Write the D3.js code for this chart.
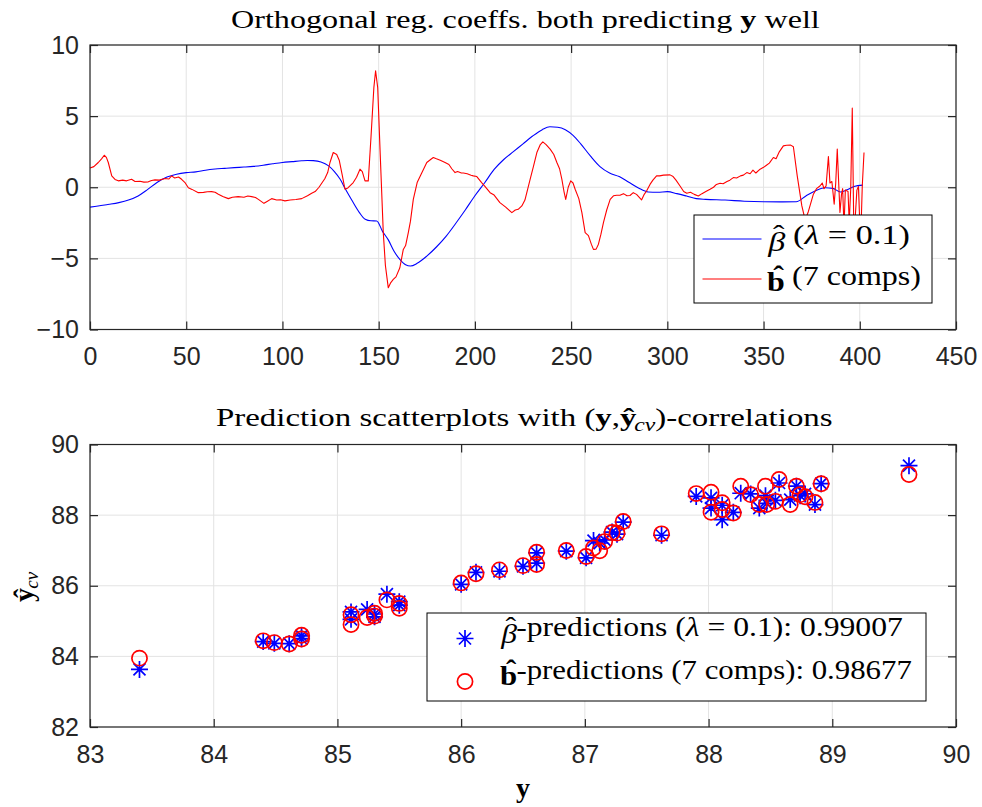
<!DOCTYPE html>
<html>
<head>
<meta charset="utf-8">
<script src="https://cdn.jsdelivr.net/npm/d3@7"></script>
<style>
  body { margin: 0; background: #fff; }
  svg { display: block; }
  .tick text { font-family: "Liberation Sans", Arial, sans-serif; font-size: 25px; fill: #262626; }
  .serif { font-family: "Liberation Serif", "Times New Roman", serif; fill: #000; }
</style>
</head>
<body>
<div id="graph"></div>
<script>
// ---- top panel: coefficient curves (variable index vs value)
const betaX = [0, 5, 10, 15, 20, 25, 30, 35, 40, 45, 50, 55, 60, 65, 70, 75, 80, 85, 90, 95, 100, 105, 110, 113, 116, 120, 124, 127, 130, 133, 136, 140, 143, 146, 149, 152, 155, 158, 161, 164, 166.5, 170, 175, 180, 185, 190, 195, 200, 205, 210, 215, 220, 225, 230, 235, 239, 243, 247, 251, 255, 260, 265, 270, 275, 280, 285, 290, 295, 300, 305, 310, 315, 320, 330, 340, 350, 360, 367, 372, 377, 382, 386, 390, 393, 397, 401.5];
const betaY = [-1.40, -1.30, -1.20, -1.08, -0.90, -0.61, -0.15, 0.35, 0.72, 0.92, 1.03, 1.08, 1.20, 1.28, 1.33, 1.38, 1.42, 1.47, 1.55, 1.65, 1.74, 1.80, 1.86, 1.88, 1.87, 1.78, 1.50, 1.10, 0.56, -0.20, -0.90, -1.78, -2.25, -2.36, -2.37, -3.10, -3.70, -4.50, -5.07, -5.45, -5.54, -5.35, -4.84, -4.20, -3.45, -2.55, -1.60, -0.60, 0.30, 1.25, 1.95, 2.50, 3.05, 3.60, 4.05, 4.25, 4.22, 4.05, 3.65, 3.05, 2.20, 1.45, 1.00, 0.75, 0.35, -0.05, -0.33, -0.35, -0.31, -0.45, -0.62, -0.80, -0.85, -0.90, -0.98, -1.02, -1.03, -1.02, -0.61, -0.25, -0.03, -0.08, -0.33, -0.20, 0.05, 0.15];

const bX = [0, 2, 4.3, 6, 7.4, 8.5, 9.5, 11.3, 13, 14.7, 17, 19, 21.6, 23.4, 26, 28, 30.3, 32, 33.8, 36, 39, 41, 42.4, 44, 46, 47.6, 49.5, 51.1, 53, 56.3, 59, 61, 63.2, 65, 66.7, 69, 71.9, 74, 77, 80, 82, 84, 86, 87.5, 90.4, 92, 94.4, 97, 99, 101.3, 104, 107, 110, 113, 115.2, 117, 119, 120.4, 122, 123.5, 124.7, 126.4, 128.2, 129.5, 131, 132.5, 134, 136.8, 138.5, 140.3, 141.5, 142.9, 144.6, 146, 147.5, 148.4, 149.5, 150.7, 152.4, 153.5, 155, 156.3, 157.6, 159, 161, 162.8, 164, 165.4, 166.5, 168, 170, 172, 175, 177, 178.4, 180, 182, 184.5, 186.5, 188, 189.7, 191, 193, 194, 196, 198, 199.2, 201, 203.5, 205, 207.9, 210, 213, 216, 219.2, 221, 222.5, 224.4, 226, 228.7, 230.5, 232.2, 234, 235.3, 237, 239.1, 241, 242.6, 244, 245.2, 246.3, 247.2, 248.5, 249.8, 251, 252.1, 254, 255.6, 257.3, 259, 260.5, 261.6, 263, 264.2, 265.5, 266.8, 268.5, 270.3, 272, 273.7, 275.4, 277.2, 279, 280.6, 282.3, 284, 286.6, 288, 289.2, 291, 292.5, 294.4, 296, 298, 301.4, 303, 304.5, 306.6, 308.5, 310.1, 312, 314, 316.1, 318, 320, 322.2, 324, 325.5, 327.4, 329, 331, 332.5, 334.3, 336, 338, 339.5, 341.3, 343, 344.5, 346, 348.2, 350, 351.5, 353, 355.1, 356.5, 358, 360.3, 362, 364.1, 365.5, 367.5, 369.9, 371.6, 373.3, 375.9, 377.5, 379.3, 380.5, 381.4, 382.5, 383.7, 384.5, 385.5, 386.7, 387.5, 388.3, 389.2, 389.7, 390.5, 391.1, 391.8, 392.5, 393.9, 394.5, 395.3, 396.1, 396.9, 397.6, 398.5, 399.3, 400, 400.6, 401.3, 402.2];
const bY = [1.35, 1.45, 1.74, 2.00, 2.25, 2.10, 1.74, 0.80, 0.55, 0.45, 0.50, 0.45, 0.56, 0.40, 0.42, 0.36, 0.38, 0.48, 0.52, 0.50, 0.61, 0.58, 0.80, 0.65, 0.72, 0.56, 0.30, -0.03, -0.15, -0.38, -0.36, -0.32, -0.31, -0.35, -0.49, -0.65, -0.80, -0.70, -0.66, -0.70, -0.62, -0.66, -0.72, -0.85, -1.13, -1.00, -0.80, -0.90, -0.88, -0.96, -0.90, -0.86, -0.80, -0.60, -0.42, -0.30, 0.00, 0.28, 0.60, 1.03, 1.74, 2.44, 2.30, 1.90, 0.90, -0.14, -0.05, 0.33, 0.70, 1.27, 1.10, 0.45, 0.45, 3.50, 7.00, 8.19, 7.00, 2.68, -3.19, -5.50, -7.07, -6.70, -6.48, -6.30, -5.66, -4.37, -4.10, -3.19, -2.40, -0.85, 0.33, 0.90, 1.74, 1.95, 2.09, 2.00, 1.90, 1.74, 1.60, 1.30, 1.03, 1.10, 1.00, 1.00, 0.95, 0.85, 0.80, 0.75, 0.33, 0.10, -0.38, -0.55, -1.08, -1.40, -1.78, -1.60, -1.55, -1.31, -0.90, 0.56, 1.50, 2.44, 3.00, 3.19, 3.00, 2.68, 2.30, 1.74, 1.30, 0.56, -0.30, -0.85, 0.00, 0.45, 0.30, -0.14, -0.80, -1.78, -3.19, -3.40, -4.00, -4.37, -4.35, -4.00, -3.30, -2.49, -1.60, -0.85, -0.60, -0.56, -0.56, -0.45, -0.60, -0.58, -0.38, -0.50, -0.89, -0.50, -0.26, 0.20, 0.50, 0.80, 0.80, 0.85, 0.87, 0.75, 0.50, 0.09, -0.30, -0.42, -0.35, -0.50, -0.61, -0.45, -0.30, -0.14, 0.00, 0.20, 0.28, 0.25, 0.40, 0.50, 0.68, 0.65, 0.80, 0.85, 1.03, 0.95, 1.20, 1.00, 1.27, 1.40, 1.55, 1.70, 2.09, 2.00, 2.45, 2.91, 2.95, 2.96, 2.85, 0.80, -1.31, -2.30, -1.70, -0.49, -0.10, 0.09, 0.30, -0.10, 0.10, 2.16, 0.30, 0.40, -1.19, 0.30, 2.68, -0.20, -1.78, -0.50, -0.10, -2.80, -0.20, -0.30, -2.50, -0.10, 5.56, -3.00, -2.20, -0.20, 0.05, -2.50, -3.20, 0.10, 2.44];

const coefXTicks = [0, 50, 100, 150, 200, 250, 300, 350, 400, 450];
const coefYTicks = [-10, -5, 0, 5, 10];

// ---- bottom panel: measured y vs cross-validated predictions
const yTrue    = [83.40, 84.40, 84.49, 84.61, 84.71, 84.71, 85.11, 85.11, 85.24, 85.30, 85.30, 85.40, 85.50, 85.50, 86.00, 86.12, 86.31, 86.50, 86.61, 86.61, 86.85, 87.01, 87.07, 87.12, 87.16, 87.22, 87.26, 87.31, 87.62, 87.90, 88.02, 88.02, 88.11, 88.11, 88.20, 88.26, 88.34, 88.41, 88.46, 88.47, 88.54, 88.57, 88.66, 88.71, 88.74, 88.78, 88.86, 88.91, 89.62];
const predBeta = [83.63, 84.42, 84.37, 84.36, 84.58, 84.50, 85.26, 85.05, 85.33, 85.20, 85.12, 85.76, 85.55, 85.45, 86.04, 86.38, 86.41, 86.55, 86.93, 86.64, 86.98, 86.79, 87.28, 87.21, 87.30, 87.52, 87.46, 87.80, 87.43, 88.53, 88.49, 88.20, 87.87, 88.28, 88.08, 88.62, 88.60, 88.20, 88.55, 88.33, 88.42, 88.91, 88.44, 88.82, 88.55, 88.60, 88.30, 88.89, 89.40];
const predB    = [83.95, 84.44, 84.39, 84.35, 84.60, 84.49, 85.18, 84.90, 85.10, 85.22, 85.14, 85.60, 85.50, 85.36, 86.08, 86.34, 86.45, 86.57, 86.95, 86.60, 87.00, 86.83, 87.07, 86.99, 87.25, 87.51, 87.49, 87.82, 87.47, 88.61, 88.65, 88.08, 88.16, 88.35, 88.06, 88.82, 88.58, 88.30, 88.82, 88.30, 88.39, 89.01, 88.30, 88.82, 88.58, 88.52, 88.36, 88.89, 89.15];

const predXTicks = [83, 84, 85, 86, 87, 88, 89, 90];
const predYTicks = [82, 84, 86, 88, 90];

const width = 982, height = 807;
const axColor = "#262626", gridColor = "#e3e3e3";

var svg = d3.select("#graph").append("svg")
    .attr("width", width)
    .attr("height", height);

// stretch a serif text horizontally so its ink spans x0..x1 (Computer Modern is wider than Times)
function fitText(t, x0, x1) {
  var bb = t.node().getBBox();
  var k = (x1 - x0) / bb.width;
  t.attr("transform", "translate(" + (x0 - bb.x * k) + ",0) scale(" + k + ",1)");
}

// hatted symbol: base glyph, then a circumflex pulled back over it
function hatted(t, base, style, weight, lift) {
  t.append("tspan").style("font-style", style).style("font-weight", weight).text(base);
  t.append("tspan").attr("dx", -10).attr("dy", -lift).style("font-weight", weight).text("\u02C6");
  t.append("tspan").attr("dy", lift).text("");
}

// grid lines behind the data
function drawGrid(g, x, y, xTicks, yTicks, w, h) {
  g.append("g").selectAll("line").data(xTicks).enter().append("line")
    .attr("x1", d => x(d)).attr("x2", d => x(d))
    .attr("y1", 0).attr("y2", h)
    .attr("stroke", gridColor).attr("stroke-width", 1);
  g.append("g").selectAll("line").data(yTicks).enter().append("line")
    .attr("y1", d => y(d)).attr("y2", d => y(d))
    .attr("x1", 0).attr("x2", w)
    .attr("stroke", gridColor).attr("stroke-width", 1);
}

// MATLAB style box: inward ticks on all four sides
function drawFrame(g, x, y, xTicks, yTicks, w, h) {
  var fmt = d3.format("d");
  var axB = g.append("g").attr("transform", "translate(0," + h + ")")
    .call(d3.axisBottom(x).tickValues(xTicks).tickFormat(fmt).tickSizeInner(-8).tickSizeOuter(0).tickPadding(18));
  var axT = g.append("g")
    .call(d3.axisTop(x).tickValues(xTicks).tickSizeInner(-8).tickSizeOuter(0).tickFormat(""));
  var axL = g.append("g")
    .call(d3.axisLeft(y).tickValues(yTicks).tickFormat(fmt).tickSizeInner(-8).tickSizeOuter(0).tickPadding(11));
  var axR = g.append("g").attr("transform", "translate(" + w + ",0)")
    .call(d3.axisRight(y).tickValues(yTicks).tickSizeInner(-8).tickSizeOuter(0).tickFormat(""));
  [axB, axT, axL, axR].forEach(a => {
    a.select(".domain").remove();
    a.selectAll(".tick line").attr("stroke", axColor).attr("stroke-width", 1.2);
  });
  g.append("rect")
    .attr("width", w).attr("height", h)
    .attr("fill", "none").attr("stroke", axColor).attr("stroke-width", 1.2);
}

// ================= top panel
var topBox = {x: 90, y: 45, w: 866, h: 284.5};
var g1 = svg.append("g").attr("transform", "translate(" + topBox.x + "," + topBox.y + ")");
var x1 = d3.scaleLinear().domain([0, 450]).range([0, topBox.w]);
var y1 = d3.scaleLinear().domain([-10, 10]).range([topBox.h, 0]);

drawGrid(g1, x1, y1, coefXTicks, coefYTicks, topBox.w, topBox.h);

var betaLine = d3.line()
  .x((d, i) => x1(betaX[i]))
  .y(d => y1(d))
  .curve(d3.curveMonotoneX);
var bLine = d3.line()
  .x((d, i) => x1(bX[i]))
  .y(d => y1(d));

g1.append("path").datum(betaY)
  .attr("d", betaLine).attr("fill", "none").attr("stroke", "#0000ff").attr("stroke-width", 1.1);
g1.append("path").datum(bY)
  .attr("d", bLine).attr("fill", "none").attr("stroke", "#ff0000").attr("stroke-width", 1.1)
  .attr("stroke-linejoin", "round");

drawFrame(g1, x1, y1, coefXTicks, coefYTicks, topBox.w, topBox.h);

// legend top
var leg1 = g1.append("g");
leg1.append("rect")
  .attr("x", 604).attr("y", 170).attr("width", 238).attr("height", 88)
  .attr("fill", "#fff").attr("stroke", "#000").attr("stroke-width", 1);
leg1.append("line").attr("x1", 612.5).attr("x2", 671.5).attr("y1", 194).attr("y2", 194)
  .attr("stroke", "#0000ff").attr("stroke-width", 1.1);
leg1.append("line").attr("x1", 612.5).attr("x2", 671.5).attr("y1", 234).attr("y2", 234)
  .attr("stroke", "#ff0000").attr("stroke-width", 1.1);

var l1a = leg1.append("text").attr("class", "serif").attr("y", 206).style("font-size", "28px");
hatted(l1a, "\u03B2", "italic", "normal", 7);
l1a.append("tspan").text(" (");
l1a.append("tspan").style("font-style", "italic").text("\u03BB");
l1a.append("tspan").text(" = 0.1)");
fitText(l1a, 677, 820);

var l1b = leg1.append("text").attr("class", "serif").attr("y", 246).style("font-size", "28px");
hatted(l1b, "b", "normal", "bold", 6);
l1b.append("tspan").text(" (7 comps)");
fitText(l1b, 677, 831);

// title top
var t1 = svg.append("text").attr("class", "serif").attr("y", 28.3).style("font-size", "25px");
t1.append("tspan").text("Orthogonal reg. coeffs. both predicting ");
t1.append("tspan").style("font-weight", "bold").text("y");
t1.append("tspan").text(" well");
fitText(t1, 231, 820);

// ================= bottom panel
var botBox = {x: 90, y: 444.5, w: 866, h: 282.5};
var g2 = svg.append("g").attr("transform", "translate(" + botBox.x + "," + botBox.y + ")");
var x2 = d3.scaleLinear().domain([83, 90]).range([0, botBox.w]);
var y2 = d3.scaleLinear().domain([82, 90]).range([botBox.h, 0]);

drawGrid(g2, x2, y2, predXTicks, predYTicks, botBox.w, botBox.h);

// MATLAB '*' marker: plus + cross
var starSymbol = {
  draw: function(context, size) {
    var r = Math.sqrt(size) / 2;
    var q = r * Math.SQRT1_2;
    context.moveTo(0, -r); context.lineTo(0, r);
    context.moveTo(-r, 0); context.lineTo(r, 0);
    context.moveTo(-q, -q); context.lineTo(q, q);
    context.moveTo(-q, q); context.lineTo(q, -q);
  }
};
var star = d3.symbol().type(starSymbol).size(17 * 17);
var circ = d3.symbol().type(d3.symbolCircle).size(Math.PI * 7.6 * 7.6);

g2.append("g").selectAll("path").data(predBeta).enter().append("path")
  .attr("transform", (d, i) => "translate(" + x2(yTrue[i]) + "," + y2(d) + ")")
  .attr("d", star)
  .attr("fill", "none").attr("stroke", "#0000ff").attr("stroke-width", 1.7);
g2.append("g").selectAll("path").data(predB).enter().append("path")
  .attr("transform", (d, i) => "translate(" + x2(yTrue[i]) + "," + y2(d) + ")")
  .attr("d", circ)
  .attr("fill", "none").attr("stroke", "#ff0000").attr("stroke-width", 1.7);

drawFrame(g2, x2, y2, predXTicks, predYTicks, botBox.w, botBox.h);

// legend bottom
var leg2 = g2.append("g");
leg2.append("rect")
  .attr("x", 337).attr("y", 168.5).attr("width", 499).attr("height", 88)
  .attr("fill", "#fff").attr("stroke", "#000").attr("stroke-width", 1);
leg2.append("path").attr("transform", "translate(375,194)").attr("d", star)
  .attr("fill", "none").attr("stroke", "#0000ff").attr("stroke-width", 1.7);
leg2.append("path").attr("transform", "translate(375,237)").attr("d", circ)
  .attr("fill", "none").attr("stroke", "#ff0000").attr("stroke-width", 1.7);

var l2a = leg2.append("text").attr("class", "serif").attr("y", 198.5).style("font-size", "28px");
hatted(l2a, "\u03B2", "italic", "normal", 7);
l2a.append("tspan").text("-predictions (");
l2a.append("tspan").style("font-style", "italic").text("\u03BB");
l2a.append("tspan").text(" = 0.1):  0.99007");
fitText(l2a, 410, 813);

var l2b = leg2.append("text").attr("class", "serif").attr("y", 240.5).style("font-size", "28px");
hatted(l2b, "b", "normal", "bold", 6);
l2b.append("tspan").text("-predictions (7 comps):  0.98677");
fitText(l2b, 410, 822);

// title bottom
var t2 = svg.append("text").attr("class", "serif").attr("y", 426).style("font-size", "25px");
t2.append("tspan").text("Prediction scatterplots with (");
t2.append("tspan").style("font-weight", "bold").text("y");
t2.append("tspan").text(",");
hatted(t2, "y", "normal", "bold", 0);
t2.append("tspan").style("font-style", "italic").style("font-size", "18px").attr("dy", 5).text("cv");
t2.append("tspan").attr("dy", -5).text(")-correlations");
fitText(t2, 216, 833);

// axis labels
svg.append("text").attr("class", "serif")
  .attr("x", 523).attr("y", 797)
  .attr("text-anchor", "middle")
  .style("font-size", "28px").style("font-weight", "bold")
  .text("y");

var yl = svg.append("text").attr("class", "serif")
  .attr("transform", "translate(33,587) rotate(-90)")
  .attr("text-anchor", "middle")
  .style("font-size", "28px");
hatted(yl, "y", "normal", "bold", 0);
yl.append("tspan").style("font-style", "italic").style("font-size", "19px").attr("dy", 5).text("cv");
</script>
</body>
</html>
